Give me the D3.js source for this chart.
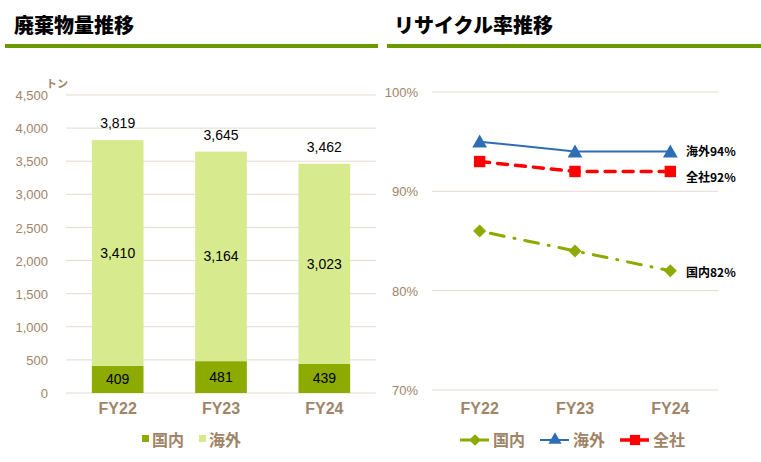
<!DOCTYPE html>
<html>
<head>
<meta charset="utf-8">
<title>廃棄物量・リサイクル率推移</title>
<script src="https://cdn.jsdelivr.net/npm/d3@7"></script>
<style>
  body { margin: 0; background: #fff; }
  svg { display: block; font-family: "Liberation Sans", Arial, "Noto Sans CJK JP", sans-serif; }
  .grid line { stroke: #e3dbd1; stroke-width: 1; }
  .tick text { fill: #a08468; }
  .cjk { font-family: "Noto Sans CJK JP", sans-serif; }
  .narrow { font-family: "Liberation Sans Narrow", "Liberation Sans", sans-serif; }
</style>
</head>
<body>
<div id="chart"></div>
<script>
// ---- data ----
var years = ["FY22", "FY23", "FY24"];
var domestic = [409, 481, 439];        // 国内 (トン)
var overseas = [3410, 3164, 3023];     // 海外 (トン)
var totals = [3819, 3645, 3462];
var wasteTicks = [0, 500, 1000, 1500, 2000, 2500, 3000, 3500, 4000, 4500];

var rateDomestic = [86, 84, 82];       // 国内 %
var rateOverseas = [95, 94, 94];       // 海外 %
var rateTotal = [93, 92, 92];          // 全社 %
var rateTicks = [70, 80, 90, 100];

var brown = "#a08468";
var dark = "#8caa00";
var light = "#d8ea8e";

var svg = d3.select("#chart").append("svg")
  .attr("width", 761)
  .attr("height", 462);

// titles + rules
svg.append("text").attr("class", "cjk").attr("x", 14).attr("y", 33)
  .style("font-size", "20px").style("font-weight", "900").text("廃棄物量推移");
svg.append("rect").attr("x", 5).attr("y", 44).attr("width", 373).attr("height", 4).attr("fill", "#6a9a00");
svg.append("text").attr("class", "cjk").attr("x", 394).attr("y", 33)
  .style("font-size", "20px").style("font-weight", "900").text("リサイクル率推移");
svg.append("rect").attr("x", 387).attr("y", 44).attr("width", 374).attr("height", 4).attr("fill", "#6a9a00");

///_____________________________ LEFT: stacked bars _____________________________
var x1 = d3.scaleBand().domain(years).range([66, 376]).paddingInner(0.5).paddingOuter(0.25);
var y1 = d3.scaleLinear().domain([0, 4500]).range([393, 95]);

var g1 = svg.append("g");
g1.append("g").attr("class", "grid")
  .selectAll("line").data(wasteTicks).enter().append("line")
  .attr("x1", 66).attr("x2", 376)
  .attr("y1", function(d) { return y1(d); }).attr("y2", function(d) { return y1(d); });

g1.append("g")
  .attr("transform", "translate(51,0)")
  .call(d3.axisLeft(y1).tickValues(wasteTicks).tickSize(0).tickFormat(d3.format(",")))
  .call(function(g) { g.select(".domain").remove(); })
  .selectAll("text").style("font-size", "13px").attr("dy", "0.35em");

g1.append("text").attr("class", "cjk").attr("x", 46).attr("y", 88).attr("fill", brown)
  .style("font-size", "11px").style("font-weight", "bold").text("トン");

years.forEach(function(yr, i) {
  var bx = x1(yr), bw = x1.bandwidth(), cx = bx + bw / 2;
  g1.append("rect").attr("x", bx).attr("width", bw)
    .attr("y", y1(domestic[i])).attr("height", y1(0) - y1(domestic[i])).attr("fill", dark);
  g1.append("rect").attr("x", bx).attr("width", bw)
    .attr("y", y1(domestic[i] + overseas[i])).attr("height", y1(domestic[i]) - y1(domestic[i] + overseas[i]))
    .attr("fill", light);
  g1.append("text").attr("x", cx).attr("y", y1(domestic[i] / 2)).attr("dy", "0.35em")
    .attr("text-anchor", "middle").style("font-size", "14px").text(d3.format(",")(domestic[i]));
  g1.append("text").attr("x", cx).attr("y", y1(domestic[i] + overseas[i] / 2)).attr("dy", "0.35em")
    .attr("text-anchor", "middle").style("font-size", "14px").text(d3.format(",")(overseas[i]));
  g1.append("text").attr("x", cx).attr("y", y1(totals[i]) - 12)
    .attr("text-anchor", "middle").style("font-size", "14px").text(d3.format(",")(totals[i]));
});

g1.append("g")
  .attr("transform", "translate(0,393)")
  .call(d3.axisBottom(x1).tickSize(0).tickPadding(10))
  .call(function(g) { g.select(".domain").remove(); })
  .selectAll("text").attr("class", "narrow").style("font-size", "16px").style("font-weight", "bold");

// legend
var leg1 = [{name: "国内", c: dark, x: 142}, {name: "海外", c: light, x: 199}];
leg1.forEach(function(d) {
  g1.append("rect").attr("x", d.x).attr("y", 435).attr("width", 7).attr("height", 7).attr("fill", d.c);
  g1.append("text").attr("class", "cjk").attr("x", d.x + 10).attr("y", 446).attr("fill", brown)
    .style("font-size", "16px").style("font-weight", "bold").text(d.name);
});

///_____________________________ RIGHT: rate lines _____________________________
var x2 = d3.scaleBand().domain(years).range([432, 718]);
var y2 = d3.scaleLinear().domain([70, 100]).range([390, 92]);

var g2 = svg.append("g");
g2.append("g").attr("class", "grid")
  .selectAll("line").data(rateTicks).enter().append("line")
  .attr("x1", 432).attr("x2", 718)
  .attr("y1", function(d) { return y2(d); }).attr("y2", function(d) { return y2(d); });

g2.append("g")
  .attr("transform", "translate(421,0)")
  .call(d3.axisLeft(y2).tickValues(rateTicks).tickSize(0).tickFormat(function(d) { return d + "%"; }))
  .call(function(g) { g.select(".domain").remove(); })
  .selectAll("text").style("font-size", "13px").attr("dy", "0.35em");

g2.append("g")
  .attr("transform", "translate(0,393)")
  .call(d3.axisBottom(x2).tickSize(0).tickPadding(10))
  .call(function(g) { g.select(".domain").remove(); })
  .selectAll("text").attr("class", "narrow").style("font-size", "16px").style("font-weight", "bold");

var cxs = function(i) { return x2(years[i]) + x2.bandwidth() / 2; };
var series = [
  {name: "国内", vals: rateDomestic, c: "#8caa00", w: 3, dash: "1,10,14,10", sym: d3.symbolSquare, rot: 45, size: 85, label: "国内82%", ly: 273},
  {name: "海外", vals: rateOverseas, c: "#2e6db4", w: 2, dash: null, sym: d3.symbolTriangle, rot: 0, size: 95, label: "海外94%", ly: 152},
  {name: "全社", vals: rateTotal, c: "#ff0000", w: 3.5, dash: "10,8", sym: d3.symbolSquare, rot: 0, size: 130, label: "全社92%", ly: 178}
];

var line = d3.line()
  .x(function(d, i) { return cxs(i); })
  .y(function(d) { return y2(d); });

series.forEach(function(s) {
  g2.append("path").datum(s.vals)
    .attr("fill", "none").attr("stroke", s.c).attr("stroke-width", s.w)
    .attr("stroke-linecap", "round")
    .attr("stroke-dasharray", s.dash)
    .attr("d", line);
});
series.forEach(function(s) {
  g2.selectAll(null).data(s.vals).enter().append("path")
    .attr("transform", function(d, i) {
      var yy = y2(d) + (s.sym === d3.symbolTriangle ? 1.5 : 0);
      return "translate(" + cxs(i) + "," + yy + ") rotate(" + s.rot + ")";
    })
    .attr("d", d3.symbol().type(s.sym).size(s.size))
    .attr("fill", s.c);
  g2.append("text").attr("class", "cjk").attr("x", 686).attr("y", s.ly).attr("dy", "0.35em")
    .style("font-size", "12px").style("font-weight", "bold").text(s.label);
});

// legend
var leg2x = [460, 540, 620];
series.forEach(function(s, i) {
  var lx = leg2x[i];
  g2.append("line").attr("x1", lx).attr("x2", lx + 29).attr("y1", 440).attr("y2", 440)
    .attr("stroke", s.c).attr("stroke-width", s.w);
  g2.append("path").attr("transform", "translate(" + (lx + 15) + ",440) rotate(" + s.rot + ")")
    .attr("d", d3.symbol().type(s.sym).size(s.size * 0.8)).attr("fill", s.c);
  g2.append("text").attr("class", "cjk").attr("x", lx + 33).attr("y", 446).attr("fill", brown)
    .style("font-size", "16px").style("font-weight", "bold").text(s.name);
});
</script>
</body>
</html>
